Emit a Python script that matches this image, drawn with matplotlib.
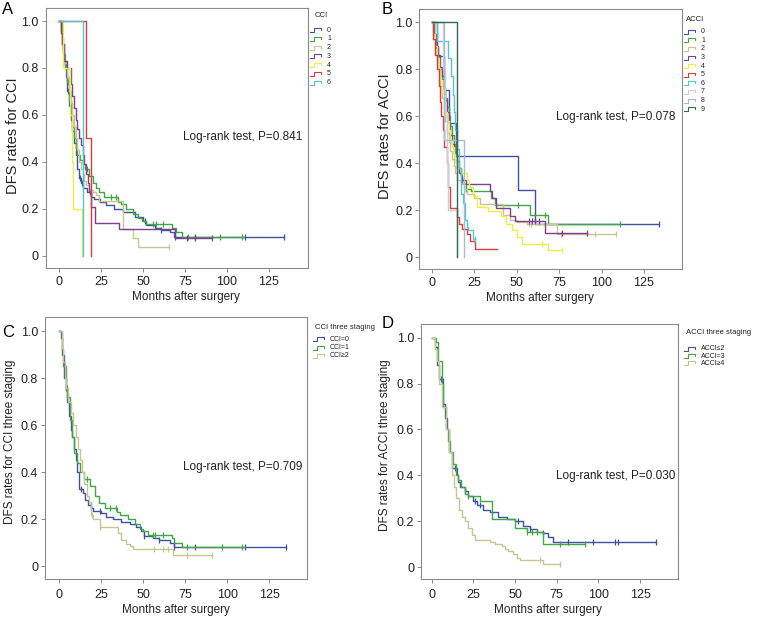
import numpy as np
import matplotlib
matplotlib.use("Agg")
import matplotlib.pyplot as plt
from matplotlib.lines import Line2D

plt.rcParams['font.family'] = ['Liberation Sans', 'DejaVu Sans']

# ---------------- data (months, survival) ----------------
# Panel A: CCI
A0_t = [0, 1, 2, 3, 4, 5, 6, 7, 8, 9, 10, 11, 12, 13, 14.5, 16.5, 19, 21, 24.5, 28, 33, 38, 45, 50, 51.5, 57, 61, 66, 68.5]
A0_s = [1.0, 0.96, 0.9, 0.82, 0.76, 0.7, 0.64, 0.58, 0.53, 0.48, 0.43, 0.37, 0.33, 0.31, 0.29, 0.27, 0.25, 0.24, 0.23, 0.215, 0.2, 0.185, 0.165, 0.15, 0.13, 0.12, 0.11, 0.1, 0.08]
A0_end = 134
A0_cens = [4.5, 5.5, 12.5, 13.5, 18.5, 24, 51, 61, 69, 81, 111, 134]

A1_t = [0, 1.5, 2.5, 3.5, 4.5, 6, 7, 8, 9, 10, 11, 12.5, 14, 15.5, 18, 20, 22, 24, 27, 35, 37, 40, 44, 47, 49.5, 52, 67, 69.5, 73.5]
A1_s = [1.0, 0.93, 0.86, 0.8, 0.74, 0.66, 0.6, 0.55, 0.5, 0.46, 0.43, 0.41, 0.39, 0.37, 0.34, 0.31, 0.29, 0.27, 0.25, 0.23, 0.22, 0.2, 0.18, 0.16, 0.15, 0.135, 0.12, 0.1, 0.08]
A1_end = 110
A1_cens = [5.5, 16.5, 31, 34, 56, 58, 62, 77, 96, 109]

A2_t = [0, 1, 2, 3, 5, 6, 7, 8, 9, 10, 11, 12, 13, 14, 15, 16, 18, 20, 22, 24, 38, 44, 47]
A2_s = [1.0, 0.94, 0.88, 0.82, 0.76, 0.7, 0.65, 0.6, 0.55, 0.5, 0.45, 0.4, 0.37, 0.35, 0.32, 0.3, 0.28, 0.27, 0.26, 0.235, 0.115, 0.077, 0.039]
A2_end = 65.5
A2_cens = [65.5]

A3_t = [0, 1, 2, 3, 5, 7, 8, 9, 10, 11, 12, 13, 14, 15, 16, 17, 18, 19, 21.5, 36, 69]
A3_s = [1.0, 0.95, 0.9, 0.83, 0.8, 0.73, 0.68, 0.63, 0.58, 0.54, 0.5, 0.47, 0.43, 0.39, 0.35, 0.31, 0.27, 0.21, 0.14, 0.113, 0.076]
A3_end = 91
A3_cens = [76, 81, 91]

A4_t = [0, 2.5, 6.5, 7.5, 8.5, 13.7]
A4_s = [1.0, 0.8, 0.6, 0.4, 0.2, 0.0]
A4_end = 13.7
A4_cens = []

A5_t = [0, 16, 18.8]
A5_s = [1.0, 0.5, 0.0]
A5_end = 18.8
A5_cens = []

A6_t = [0, 14.5]
A6_s = [1.0, 0.0]
A6_end = 14.5
A6_cens = []

# Panel B: ACCI
B0_t = [0, 3, 7, 10, 14.5, 51, 61]
B0_s = [1.0, 0.857, 0.714, 0.571, 0.429, 0.286, 0.143]
B0_end = 134
B0_cens = [134]

B1_t = [0, 1.5, 2.5, 3.5, 4.5, 6, 7, 8, 9, 10, 11, 12, 13, 14, 15, 16, 17, 18, 19, 20, 23, 35, 37.5, 58, 68.3]
B1_s = [1.0, 0.94, 0.89, 0.85, 0.8, 0.76, 0.72, 0.68, 0.64, 0.6, 0.56, 0.52, 0.48, 0.44, 0.41, 0.38, 0.35, 0.33, 0.31, 0.29, 0.28, 0.25, 0.22, 0.18, 0.14]
B1_end = 111
B1_cens = [4, 20, 51, 67, 111]

B2_t = [0, 1, 2, 3, 4, 5, 6, 7, 8, 9, 10, 11, 12, 13, 14, 15, 17, 19, 21, 25, 28.5, 42, 46, 50, 56, 73.6]
B2_s = [1.0, 0.94, 0.88, 0.83, 0.78, 0.73, 0.68, 0.63, 0.58, 0.53, 0.49, 0.45, 0.42, 0.39, 0.36, 0.33, 0.31, 0.29, 0.27, 0.25, 0.225, 0.18, 0.16, 0.15, 0.14, 0.1]
B2_end = 108.5
B2_cens = [57, 58.5, 76, 96, 108.5]

B3_t = [0, 1.5, 2.5, 3.5, 5, 6, 7, 8, 9, 10, 11, 12, 13, 14, 15, 16, 17, 18, 20, 34.3, 35.5, 38, 46, 49, 66.8]
B3_s = [1.0, 0.95, 0.9, 0.86, 0.81, 0.77, 0.72, 0.67, 0.62, 0.57, 0.52, 0.48, 0.44, 0.41, 0.38, 0.36, 0.34, 0.33, 0.31, 0.28, 0.25, 0.21, 0.175, 0.155, 0.104]
B3_end = 91.3
B3_cens = [18, 57, 59, 61, 63, 76.5, 91.3]

B4_t = [0, 1, 2, 3, 4, 5, 6, 7, 8, 9, 10, 11, 12, 13, 14, 15, 17, 20.6, 22, 24.5, 26.5, 33, 41, 44, 47, 50, 53, 68.7]
B4_s = [1.0, 0.95, 0.9, 0.85, 0.8, 0.75, 0.7, 0.66, 0.62, 0.58, 0.54, 0.5, 0.47, 0.44, 0.41, 0.38, 0.36, 0.33, 0.3, 0.26, 0.215, 0.196, 0.175, 0.14, 0.115, 0.087, 0.058, 0.03]
B4_end = 76.5
B4_cens = [64.8, 76.5]

B5_t = [0, 1, 2, 3, 4, 5, 5.5, 6.5, 7.5, 8.8, 9.8, 11, 14.7, 16, 17.7, 20.6, 22.5, 25.5]
B5_s = [1.0, 0.93, 0.86, 0.8, 0.73, 0.66, 0.6, 0.54, 0.47, 0.4, 0.3, 0.21, 0.17, 0.14, 0.12, 0.1, 0.07, 0.034]
B5_end = 38.3
B5_cens = []

B6_t = [0, 3, 9.8, 11.4, 12.5, 13.2, 14, 15, 16, 17, 17.5, 18.5, 19.6, 20.6, 21.6, 24.5]
B6_s = [1.0, 0.92, 0.85, 0.77, 0.69, 0.62, 0.54, 0.46, 0.38, 0.31, 0.27, 0.23, 0.16, 0.13, 0.115, 0.077]
B6_end = 25.5
B6_cens = [25.5]

B7_t = [0, 6.6, 8, 9, 9.8, 14.7]
B7_s = [1.0, 0.8, 0.6, 0.4, 0.2, 0.0]
B7_end = 14.7
B7_cens = []

B8_t = [0, 7.4, 19.2]
B8_s = [1.0, 0.5, 0.0]
B8_end = 19.2
B8_cens = []

B9_t = [0, 14.7]
B9_s = [1.0, 0.0]
B9_end = 14.7
B9_cens = []

# Panel C: CCI three staging
C0_t = [0, 1, 2, 3, 4, 5, 6, 7, 8, 9, 10, 11, 12, 14, 15.5, 17, 19, 20.5, 25, 28, 32, 37, 42, 46, 49, 50.5, 56, 59.5, 66, 68.5]
C0_s = [1.0, 0.97, 0.9, 0.8, 0.76, 0.7, 0.64, 0.58, 0.55, 0.5, 0.45, 0.4, 0.33, 0.31, 0.28, 0.26, 0.25, 0.235, 0.225, 0.21, 0.2, 0.19, 0.18, 0.165, 0.15, 0.13, 0.12, 0.11, 0.1, 0.08]
C0_end = 134.9
C0_cens = [4, 4.6, 12.9, 18.8, 24.4, 50.5, 59.6, 68.6, 80.8, 110.5, 134.9]

C1_t = [0, 1.6, 2.5, 4, 5, 6.5, 7.5, 9, 10.5, 12.5, 15, 18.4, 21.4, 23.8, 27.3, 34.3, 36, 41, 45, 48, 49.7, 53, 67, 68.5, 72.9]
C1_s = [1.0, 0.92, 0.85, 0.75, 0.72, 0.62, 0.55, 0.48, 0.44, 0.4, 0.37, 0.34, 0.3, 0.27, 0.25, 0.23, 0.22, 0.2, 0.18, 0.16, 0.15, 0.135, 0.12, 0.1, 0.08]
C1_end = 110.5
C1_cens = [5.5, 16.4, 30.3, 33.9, 56, 57, 62, 75.8, 96.6, 109]

C2_t = [0, 1.6, 2.5, 3.6, 4.2, 5.5, 7.1, 8.5, 10, 11.4, 12.5, 13.5, 15, 16.8, 18, 18.8, 20, 24.4, 35, 36.6, 40, 42, 44, 67.9]
C2_s = [1.0, 0.93, 0.87, 0.8, 0.76, 0.7, 0.65, 0.6, 0.55, 0.5, 0.45, 0.4, 0.35, 0.3, 0.27, 0.22, 0.2, 0.165, 0.14, 0.11, 0.095, 0.085, 0.075, 0.05]
C2_end = 90.7
C2_cens = [19.4, 24.4, 56.4, 62, 65, 75.8, 90.7]

# Panel D: ACCI three staging
D0_t = [0, 2, 3, 4.6, 6.6, 8, 9, 10.4, 12.4, 15, 16, 17, 20, 22, 25, 27, 31, 35, 40, 45, 50, 55, 59, 63, 67, 70, 73]
D0_s = [1.0, 0.96, 0.88, 0.82, 0.71, 0.65, 0.6, 0.5, 0.43, 0.4, 0.37, 0.35, 0.33, 0.31, 0.29, 0.27, 0.25, 0.24, 0.22, 0.21, 0.2, 0.18, 0.165, 0.155, 0.15, 0.13, 0.11]
D0_end = 134.6
D0_cens = [5.6, 6.6, 14, 20, 26, 29, 52, 59, 67, 82, 97, 110, 111.5, 134.6]

D1_t = [0, 2.5, 4, 6, 7, 8.4, 9.5, 11, 13, 14.6, 16, 17.4, 20, 22, 29, 36, 50, 57, 67]
D1_s = [1.0, 0.98, 0.9, 0.8, 0.7, 0.6, 0.55, 0.5, 0.45, 0.4, 0.38, 0.35, 0.32, 0.31, 0.29, 0.21, 0.17, 0.154, 0.1]
D1_end = 92
D1_cens = [22, 57, 60, 63, 77, 92]

D2_t = [0, 2, 3.4, 4.6, 6.4, 8.4, 10.6, 12, 13.4, 14.6, 16.6, 18, 20, 22, 24, 26, 35, 38, 42, 44, 46, 48.6, 51, 53, 67]
D2_s = [1.0, 0.95, 0.9, 0.8, 0.7, 0.6, 0.5, 0.4, 0.35, 0.3, 0.25, 0.22, 0.2, 0.17, 0.14, 0.12, 0.11, 0.1, 0.09, 0.08, 0.07, 0.055, 0.04, 0.03, 0.015]
D2_end = 77
D2_cens = [65, 77]

A_labels = ['0', '1', '2', '3', '4', '5', '6']
B_labels = ['0', '1', '2', '3', '4', '5', '6', '7', '8', '9']
C_labels = ['CCI=0', 'CCI=1', 'CCI\u22652']
D_labels = ['ACCI\u22642', 'ACCI=3', 'ACCI\u22654']
p_values = ['0.841', '0.078', '0.709', '0.030']

BLUE, GREEN, TAN, PURPLE = '#3f51a3', '#3fa845', '#c9c590', '#7d3f8f'
YELLOW, RED, CYAN = '#f0eb45', '#e0393a', '#52c4d4'
LGRAY, LBLUE, DGREEN = '#cfcfcf', '#a5bcd3', '#2e6b4f'

panels = [
    dict(letter='A', pos=[0.0603, 0.5656, 0.346, 0.4209], xlim=(-7.9, 148.2), ylim=(-0.052, 1.054),
         ylabel='DFS rates for CCI', ylsize=10.5, title='CCI', labels=A_labels,
         colors=[BLUE, GREEN, TAN, PURPLE, YELLOW, RED, CYAN],
         curves=[(A0_t, A0_s, A0_end, A0_cens), (A1_t, A1_s, A1_end, A1_cens), (A2_t, A2_s, A2_end, A2_cens),
                 (A3_t, A3_s, A3_end, A3_cens), (A4_t, A4_s, A4_end, A4_cens), (A5_t, A5_s, A5_end, A5_cens),
                 (A6_t, A6_s, A6_end, A6_cens)],
         ptxt=(74, 0.506), ylc=(-0.125, 0.51), xlc=(0.534, -0.112), xpad=2.5,
         leg_title=(315, 15.5), leg_x=310, leg_y0=30.0, leg_dy=8.77, letter_xy=(2, 1.5)),
    dict(letter='B', pos=[0.5532, 0.5635, 0.347, 0.4219], xlim=(-7.3, 147.6), ylim=(-0.052, 1.057),
         ylabel='DFS rates for ACCI', ylsize=10.5, title='ACCI', labels=B_labels,
         colors=[BLUE, GREEN, TAN, PURPLE, YELLOW, RED, CYAN, LGRAY, LBLUE, DGREEN],
         curves=[(B0_t, B0_s, B0_end, B0_cens), (B1_t, B1_s, B1_end, B1_cens), (B2_t, B2_s, B2_end, B2_cens),
                 (B3_t, B3_s, B3_end, B3_cens), (B4_t, B4_s, B4_end, B4_cens), (B5_t, B5_s, B5_end, B5_cens),
                 (B6_t, B6_s, B6_end, B6_cens), (B7_t, B7_s, B7_end, B7_cens), (B8_t, B8_s, B8_end, B8_cens),
                 (B9_t, B9_s, B9_end, B9_cens)],
         ptxt=(73, 0.598), ylc=(-0.13, 0.51), xlc=(0.46, -0.11), xpad=2.5,
         leg_title=(686, 19.5), leg_x=684, leg_y0=31.7, leg_dy=8.6, letter_xy=(382, 1.5)),
    dict(letter='C', pos=[0.0594, 0.0616, 0.3456, 0.4246], xlim=(-8.3, 147.4), ylim=(-0.054, 1.06),
         ylabel='DFS rates for CCI three staging', ylsize=8.5, title='CCI three staging', labels=C_labels,
         colors=[BLUE, GREEN, TAN],
         curves=[(C0_t, C0_s, C0_end, C0_cens), (C1_t, C1_s, C1_end, C1_cens), (C2_t, C2_s, C2_end, C2_cens)],
         ptxt=(73.8, 0.423), ylc=(-0.134, 0.524), xlc=(0.5, -0.118), xpad=4,
         leg_title=(315, 327.3), leg_x=313, leg_y0=339.3, leg_dy=8.2, letter_xy=(2, 325)),
    dict(letter='D', pos=[0.5554, 0.0616, 0.3387, 0.4133], xlim=(-6.4, 147.6), ylim=(-0.052, 1.06),
         ylabel='DFS rates for ACCI three staging', ylsize=8.5, title='ACCI three staging', labels=D_labels,
         colors=[BLUE, GREEN, TAN],
         curves=[(D0_t, D0_s, D0_end, D0_cens), (D1_t, D1_s, D1_end, D1_cens), (D2_t, D2_s, D2_end, D2_cens)],
         ptxt=(74.4, 0.398), ylc=(-0.14, 0.525), xlc=(0.496, -0.122), xpad=4,
         leg_title=(686.5, 332.7), leg_x=684, leg_y0=349.0, leg_dy=7.2, letter_xy=(382, 316)),
]

W, H = 758, 617
fig = plt.figure(figsize=(W / 100, H / 100), dpi=100)

FRAME = '#8a8a8a'
TXT = '#222222'

for k, p in enumerate(panels):
    ax = fig.add_axes(p['pos'])
    for (t, s, end, cens), col in zip(p['curves'], p['colors']):
        tt = list(t) + [end]
        ss = list(s) + [s[-1]]
        ax.step(tt, ss, where='post', color=col, lw=1.0)
        if cens:
            idx = np.searchsorted(np.array(t), np.array(cens), side='right') - 1
            ax.plot(cens, np.array(s)[idx], ls='none', marker='|', ms=4.5, mew=0.9, color=col)
    ax.set_xlim(*p['xlim'])
    ax.set_ylim(*p['ylim'])
    ax.set_xticks([0, 25, 50, 75, 100, 125])
    ax.set_yticks([0, 0.2, 0.4, 0.6, 0.8, 1.0])
    ax.set_yticklabels(['0', '0.2', '0.4', '0.6', '0.8', '1.0'])
    ax.tick_params(direction='out', length=3, width=0.7, color=FRAME, labelsize=9, labelcolor=TXT, pad=2)
    ax.tick_params(axis='x', pad=p['xpad'])
    for sp in ax.spines.values():
        sp.set_color(FRAME)
        sp.set_linewidth(0.8)
    ax.set_xlabel('Months after surgery', fontsize=8.5, color=TXT)
    ax.xaxis.label.set_va('center')
    ax.xaxis.set_label_coords(*p['xlc'])
    ax.set_ylabel(p['ylabel'], fontsize=p['ylsize'], color=TXT)
    ax.yaxis.label.set_va('center')
    ax.yaxis.set_label_coords(*p['ylc'])
    ax.text(p['ptxt'][0], p['ptxt'][1], 'Log-rank test, P=' + p_values[k],
            fontsize=8.5, color=TXT, ha='left', va='center')

    # panel letter
    lx, ly = p['letter_xy']
    fig.text(lx / W, 1 - ly / H, p['letter'], fontsize=12, color='black', ha='left', va='top')

    # legend with step-shaped keys
    tx, ty = p['leg_title']
    fig.text(tx / W, 1 - ty / H, p['title'], fontsize=5.5, color=TXT, ha='left', va='center')
    for i, (lab, col) in enumerate(zip(p['labels'], p['colors'])):
        yc = p['leg_y0'] + i * p['leg_dy']
        x0 = p['leg_x']
        xs = np.array([x0, x0 + 3.5, x0 + 3.5, x0 + 11, x0 + 11]) / W
        ys = 1 - np.array([yc + 2, yc + 2, yc - 2, yc - 2, yc]) / H
        fig.add_artist(Line2D(xs, ys, color=col, lw=0.8))
        fig.text((x0 + 17) / W, 1 - yc / H, lab, fontsize=5, color=TXT, ha='left', va='center')

fig.savefig('out.png', dpi=100)
